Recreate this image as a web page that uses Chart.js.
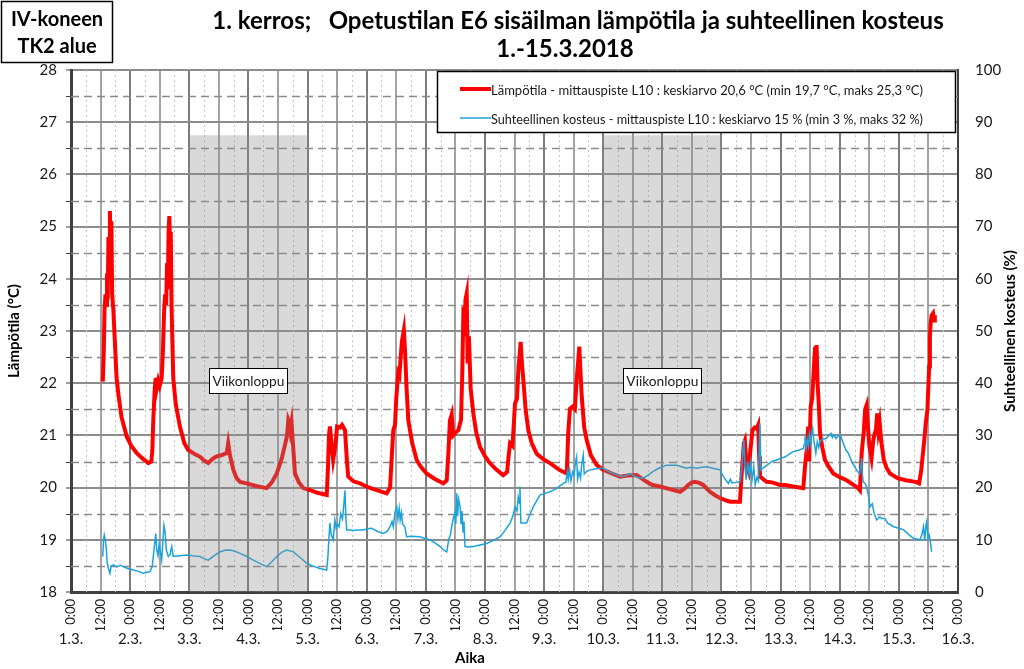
<!DOCTYPE html>
<html lang="fi">
<head>
  <meta charset="UTF-8" />
  <title>Opetustilan E6 sisäilman lämpötila ja suhteellinen kosteus</title>
  <script src="https://cdn.jsdelivr.net/npm/chart.js@4"></script>
  <style>
    html, body { margin: 0; padding: 0; background: #fff; }
    canvas { display: block; }
  </style>
</head>
<body>
  <canvas id="chart" width="1024" height="669"></canvas>

  <script>
    // tunnit 1.3. klo 0:00 alkaen
    const dateLabels = ["1.3.", "2.3.", "3.3.", "4.3.", "5.3.", "6.3.", "7.3.", "8.3.",
      "9.3.", "10.3.", "11.3.", "12.3.", "13.3.", "14.3.", "15.3.", "16.3."];

    const weekends = [[48, 96], [216, 264]];

    const tempHours = [12.9, 13.3, 13.6, 14.0, 14.3, 14.6, 14.9, 15.2, 15.5, 15.8, 16.1, 16.4, 16.7, 17.2, 17.9, 18.5, 19.2, 20.5, 22.6, 24.5,
      26.7, 29, 31.4, 32.6, 33.0, 33.4, 34.0, 34.4, 34.8, 35.4, 36.0, 36.8, 37.3, 37.8, 38.2, 38.6, 39.0, 39.3, 39.6, 39.9,
      40.2, 40.5, 40.8, 41.5, 42.5, 44.2, 46, 47.6, 50, 52.4, 54, 55.7, 57.5, 59.1, 61, 63.2, 63.8, 64.5, 65.9, 67.2,
      68.6, 71.3, 75, 79.4, 81.5, 83.5, 85.5, 87.0, 87.7, 88.2, 88.6, 89.0, 89.5, 90.0, 90.9, 92.5, 94.3, 97, 100, 103.8,
      104.3, 104.7, 105.1, 105.6, 106.4, 107.3, 108.0, 109.2, 110, 111.2, 112, 112.5, 114.6, 117.3, 118.6, 121, 124.1, 128.1, 129.5, 130.2,
      130.8, 131.5, 132, 132.8, 133.3, 133.8, 134.3, 135.1, 135.6, 136.2, 136.9, 138.5, 140.3, 142, 144.3, 147.5, 151.1, 152.5, 153.2, 153.8,
      154.5, 155.1, 155.8, 157.2, 158.3, 158.8, 159.3, 159.7, 160.1, 160.6, 161.0, 161.5, 162.2, 163.3, 164.5, 166, 168, 170, 172.5, 175.4,
      177, 177.6, 178.2, 179.2, 180.2, 181.0, 181.6, 182.0, 182.5, 183.0, 183.6, 184.5, 185.6, 187, 189, 191.5, 194.4, 198.5, 201.2, 201.8,
      202.5, 203.5, 204.5, 205.2, 205.8, 206.3, 206.8, 207.3, 208.3, 209.3, 211, 213.4, 216, 219.5, 222.8, 226, 229.6, 233.6, 236, 239,
      243, 247.2, 249, 250.5, 252, 253.2, 255, 256.6, 259.3, 261.5, 263.4, 265.5, 267.5, 271.5, 272.1, 272.6, 273.1, 273.5, 274.2, 275,
      275.7, 276.6, 277.5, 278.3, 278.9, 279.3, 279.6, 282.3, 284.5, 287.7, 290, 293.1, 297.2, 297.9, 298.6, 299.2, 299.6, 300.2, 300.8, 301.4,
      302.0, 302.4, 302.6, 303.0, 303.5, 304.0, 305, 306, 307.5, 309.4, 312, 314.8, 317, 319.5, 320.2, 320.9, 321.4, 321.8, 322.3, 322.9,
      323.4, 324, 324.9, 325.6, 326.2, 326.7, 327.2, 327.7, 328.2, 328.8, 329.9, 331, 332.4, 335.5, 338.7, 342.8, 344.2, 345.0, 345.5, 346.3,
      346.9, 347.6, 348.3, 348.6, 348.9, 349.3, 349.9, 350.3, 350.6];
    const tempValues = [22.03, 22.6, 23.4, 23.7, 23.5, 24.1, 23.6, 24.8, 24.2, 25.3, 24.4, 25.1, 23.7, 23.4, 22.7, 22.1, 21.8, 21.35, 20.98, 20.8,
      20.66, 20.56, 20.47, 20.5, 20.7, 21.3, 21.9, 22.1, 21.9, 22.05, 21.95, 22.1, 22.6, 23.4, 23.7, 23.5, 24.3, 23.8, 24.9, 25.2,
      24.6, 24.9, 23.5, 22.1, 21.6, 21.17, 20.85, 20.72, 20.65, 20.59, 20.52, 20.47, 20.55, 20.6, 20.62, 20.66, 20.85, 20.62, 20.34, 20.18,
      20.11, 20.08, 20.03, 19.99, 20.1, 20.27, 20.55, 20.85, 21.0, 21.3, 21.25, 21.1, 21.25, 20.9, 20.27, 20.1, 19.99, 19.95, 19.9, 19.86,
      20.4, 21.0, 21.17, 20.9, 20.53, 20.8, 21.17, 21.15, 21.2, 21.1, 20.5, 20.21, 20.12, 20.08, 20.05, 20.0, 19.95, 19.89, 20.0, 20.6,
      21.1, 21.2, 21.7, 22.2, 22.15, 22.5, 22.8, 23.02, 22.6, 21.9, 21.29, 20.85, 20.53, 20.4, 20.27, 20.17, 20.08, 20.14, 20.7, 21.29,
      21.4, 21.0, 21.04, 21.1, 21.3, 22.2, 23.47, 22.9, 23.6, 23.72, 22.38, 22.9, 21.9, 21.42, 21.05, 20.78, 20.6, 20.47, 20.35, 20.24,
      20.3, 20.6, 20.85, 20.8, 21.61, 21.7, 22.3, 22.5, 22.79, 22.4, 22.06, 21.5, 21.1, 20.85, 20.65, 20.55, 20.47, 20.33, 20.27, 21.04,
      21.51, 21.55, 21.5, 22.06, 22.4, 22.7, 22.2, 21.74, 21.15, 20.91, 20.62, 20.43, 20.34, 20.27, 20.21, 20.23, 20.24, 20.11, 20.05, 20.02,
      19.97, 19.92, 19.98, 20.05, 20.1, 20.11, 20.09, 20.05, 19.92, 19.85, 19.8, 19.76, 19.73, 19.73, 20.2, 20.53, 20.85, 20.9, 20.4, 20.3,
      20.7, 21.1, 21.15, 21.13, 21.2, 20.6, 20.21, 20.11, 20.1, 20.05, 20.05, 20.02, 19.99, 20.4, 20.72, 21.17, 20.5, 21.55, 21.7, 22.2,
      22.7, 22.1, 22.73, 22.0, 21.6, 21.04, 20.75, 20.53, 20.4, 20.27, 20.2, 20.14, 20.07, 19.99, 19.95, 20.66, 20.9, 21.1, 21.5, 21.58,
      21.2, 20.8, 20.56, 20.9, 21.04, 21.1, 21.42, 21.1, 21.25, 20.9, 20.53, 20.38, 20.27, 20.18, 20.14, 20.11, 20.08, 20.3, 20.53, 20.9,
      21.23, 21.5, 22.32, 22.9, 23.15, 23.3, 23.34, 23.2, 23.3];

    const rhHours = [12.9, 13.2, 13.5, 13.9, 14.3, 14.7, 15.2, 15.8, 16.3, 17.2, 18.5, 20, 21.2, 23, 25.3, 27, 29.3, 31, 32.1, 33.0,
      33.4, 34.0, 34.4, 34.8, 35.3, 35.8, 36.3, 36.8, 37.2, 37.7, 38.2, 38.7, 39.5, 40.2, 40.9, 41.5, 43, 45, 47, 50,
      52.4, 54, 55.7, 58, 60.5, 62.5, 64.5, 66.5, 68.6, 71.3, 74, 77, 79.4, 81.5, 83.5, 85.5, 87.5, 90.2, 92.5, 95.7,
      98, 101, 103.8, 104.3, 104.7, 105.1, 105.6, 106.4, 107.1, 107.6, 108.2, 108.8, 109.5, 110.2, 110.7, 111.2, 111.6, 111.9, 113, 114.6,
      116.5, 118.6, 120.3, 122, 124.5, 126.7, 128.3, 129.5, 130.3, 130.8, 131.5, 132.2, 132.7, 133.2, 133.6, 134.1, 134.6, 135.5, 136.2, 138,
      141.6, 143.5, 145.7, 148, 149.8, 151.3, 152.5, 153.3, 154, 154.5, 155.1, 155.8, 156.2, 156.5, 156.9, 157.3, 157.9, 158.3, 158.7, 159.1,
      159.5, 159.9, 161.5, 163.3, 166, 168.7, 171.5, 174.2, 176.2, 178.2, 179.3, 180.2, 181.0, 181.5, 182.0, 182.2, 182.6, 184.9, 186.2, 187.6,
      189, 190.4, 192.4, 194.4, 197, 199.8, 200.8, 201.4, 201.8, 202.4, 202.9, 203.6, 204.2, 204.8, 205.2, 205.6, 206.2, 206.8, 207.3, 207.9,
      208.3, 209.3, 210.6, 212, 214.7, 216, 218, 220.1, 222.3, 224.2, 226.9, 229.6, 232.3, 234.5, 236.3, 239, 241.8, 245.8, 247.8, 249.9,
      251.5, 253.9, 256, 258, 260.5, 263.4, 264.8, 266.8, 267.6, 268.3, 270, 271.5, 272.1, 272.6, 273.1, 273.5, 274.0, 274.6, 275.2, 275.8,
      276.4, 277.1, 277.7, 278.4, 279.0, 279.6, 280.0, 281, 282.5, 284.5, 286.4, 288, 289.9, 291.5, 293.1, 295, 297.2, 297.6, 297.9, 298.4,
      298.8, 299.3, 299.7, 300.2, 300.6, 301.0, 301.5, 301.9, 302.3, 302.9, 303.5, 304, 305.2, 306.4, 307.5, 308.4, 309, 309.5, 310.5, 311.5,
      312.5, 313.2, 314.5, 315.6, 316.5, 317.3, 318.2, 319, 320, 320.6, 320.9, 321.2, 321.5, 322.3, 322.9, 323.7, 324.3, 325.2, 326.0, 327,
      328.2, 329.0, 330.3, 331.5, 333.9, 336, 338, 340, 342, 344.6, 345.4, 346.0, 346.5, 347.0, 347.3, 347.8, 348.3, 348.7, 349.3];
    const rhValues = [6.8, 10.0, 10.9, 10.0, 8.5, 5.5, 4.5, 3.6, 5.0, 5.2, 4.8, 5.1, 4.85, 4.5, 4.2, 4.0, 3.6, 3.8, 3.9, 5.0,
      6.8, 9.5, 11.2, 8.0, 7.0, 9.3, 7.5, 6.1, 9.0, 12.8, 11.5, 8.0, 6.8, 7.2, 8.7, 6.8, 6.9, 7.0, 7.1, 6.9,
      6.8, 6.4, 6.1, 6.9, 7.7, 8.0, 8.05, 7.8, 7.4, 6.8, 6.1, 5.4, 4.85, 5.8, 6.8, 7.6, 8.05, 7.7, 6.8, 5.5,
      5.0, 4.5, 4.2, 7.0, 10.5, 13.2, 11.0, 10.0, 13.8, 12.2, 13.0, 12.5, 15.0, 14.0, 16.5, 19.5, 14.0, 11.9, 11.9, 11.8,
      11.9, 11.9, 12.1, 12.2, 11.6, 11.2, 11.6, 12.5, 13.5, 12.5, 15.3, 16.3, 14.0, 16.0, 13.8, 15.2, 13.0, 12.5, 10.6, 10.7,
      10.6, 10.3, 10.0, 9.3, 8.7, 8.0, 7.7, 10.0, 11.0, 12.5, 14.0, 15.1, 13.0, 18.9, 14.5, 17.8, 16.4, 13.0, 15.5, 11.5,
      13.5, 8.7, 8.6, 8.7, 9.0, 9.3, 9.9, 10.6, 11.8, 13.2, 14.5, 16.3, 15.5, 18.2, 17.0, 20.2, 13.2, 13.2, 14.8, 16.3,
      17.5, 18.6, 18.9, 19.2, 19.8, 20.8, 21.0, 23.0, 21.5, 23.4, 21.3, 23.0, 22.4, 25.0, 25.9, 21.6, 23.0, 21.8, 24.5, 26.2,
      22.6, 23.1, 23.4, 23.5, 23.7, 23.7, 23.1, 22.7, 22.3, 22.1, 22.7, 22.0, 21.8, 22.5, 23.1, 23.8, 24.3, 24.3, 24.0, 23.7,
      23.9, 23.7, 23.9, 24.0, 23.7, 23.4, 22.1, 20.8, 21.6, 20.9, 21.0, 21.1, 23.0, 26.5, 29.1, 24.0, 21.5, 25.0, 22.5, 24.8,
      21.5, 24.0, 20.5, 22.0, 21.3, 32.3, 23.4, 23.8, 24.3, 25.0, 25.3, 25.6, 25.9, 26.4, 26.9, 27.1, 27.5, 28.2, 29.8, 27.5,
      29.2, 27.9, 30.2, 28.5, 30.5, 31.4, 29.0, 27.9, 26.6, 28.8, 27.7, 28.9, 29.3, 29.4, 29.9, 30.4, 29.6, 30.1, 29.4, 30.0,
      29.8, 28.8, 27.2, 26.5, 25.4, 24.6, 23.9, 23.2, 22.7, 24.1, 25.6, 22.5, 21.1, 20.8, 20.2, 18.3, 16.3, 16.9, 15.0, 13.8,
      14.4, 14.1, 14.1, 13.2, 12.5, 12.2, 11.9, 11.0, 10.3, 10.0, 11.1, 12.5, 9.9, 12.8, 13.5, 10.3, 10.9, 10.0, 7.7];

    const tempLabel = "Lämpötila - mittauspiste L10 : keskiarvo 20,6 °C (min 19,7 °C, maks 25,3 °C)";
    const rhLabel = "Suhteellinen kosteus - mittauspiste L10 : keskiarvo 15 % (min 3 %, maks 32 %)";

    const FONT = "Lato, 'Liberation Sans', sans-serif";
    const TEXT = "#1a1a1a";

    // piirretään tekstit, laatikot ja apuviivat itse
    const decor = {
      id: "decor",
      beforeDraw(chart) {
        const c = chart.ctx;
        c.save();
        c.fillStyle = "#fff";
        c.fillRect(0, 0, chart.width, chart.height);
        c.restore();
      },
      beforeDatasetsDraw(chart) {
        const c = chart.ctx, a = chart.chartArea;
        const x = chart.scales.x, y = chart.scales.y;
        c.save();
        // 6 h välit pisteviivalla
        c.strokeStyle = "#c4c4c4";
        c.lineWidth = 1;
        c.setLineDash([2, 3]);
        for (let h = 6; h < 360; h += 12) {
          const px = Math.round(x.getPixelForValue(h)) + 0.5;
          c.beginPath(); c.moveTo(px, a.top); c.lineTo(px, a.bottom); c.stroke();
        }
        // puolen asteen katkoviivat
        c.strokeStyle = "#8a8a8a";
        c.lineWidth = 1.5;
        c.setLineDash([8, 5]);
        for (let t = 18.5; t < 28; t += 1) {
          const py = Math.round(y.getPixelForValue(t)) + 0.5;
          c.beginPath(); c.moveTo(a.left, py); c.lineTo(a.right, py); c.stroke();
        }
        c.setLineDash([]);
        c.strokeStyle = "#404040";
        c.lineWidth = 1;
        for (let t = 18.5; t < 28; t += 1) {
          const py = Math.round(y.getPixelForValue(t)) + 0.5;
          c.beginPath(); c.moveTo(a.left - 5, py); c.lineTo(a.left, py); c.stroke();
        }
        c.restore();
      },
      afterDatasetsDraw(chart) {
        const c = chart.ctx;
        const x = chart.scales.x, y = chart.scales.y;
        c.save();
        // viikonloput
        c.fillStyle = "rgba(140,140,140,0.33)";
        weekends.forEach(([h0, h1]) => {
          const x0 = x.getPixelForValue(h0), x1 = x.getPixelForValue(h1);
          const y0 = y.getPixelForValue(26.75), y1 = y.getPixelForValue(18);
          c.fillRect(x0, y0, x1 - x0, y1 - y0);
        });
        c.font = "14px " + FONT;
        c.textAlign = "center";
        c.textBaseline = "middle";
        weekends.forEach(([h0, h1]) => {
          const cx = x.getPixelForValue((h0 + h1) / 2);
          const cy = y.getPixelForValue(22.05);
          c.fillStyle = "#fff";
          c.fillRect(cx - 39, cy - 12.5, 78, 25);
          c.strokeStyle = "#000";
          c.lineWidth = 1;
          c.strokeRect(Math.round(cx - 39) + 0.5, Math.round(cy - 12.5) + 0.5, 78, 25);
          c.fillStyle = TEXT;
          c.fillText("Viikonloppu", cx, cy + 1, 72);
        });

        // selite
        c.fillStyle = "#fff";
        c.fillRect(437, 71, 519, 62);
        c.strokeStyle = "#000";
        c.lineWidth = 1.5;
        c.strokeRect(437.5, 71.5, 518, 61);
        const ds = chart.data.datasets;
        const rows = [[ds[0], 89], [ds[1], 118]];
        c.textAlign = "left";
        rows.forEach(([d, ry]) => {
          c.strokeStyle = d.borderColor;
          c.lineWidth = d.borderWidth;
          c.beginPath(); c.moveTo(460, ry); c.lineTo(491, ry); c.stroke();
          c.fillStyle = TEXT;
          c.font = "14px " + FONT;
          c.fillText(d.label, 491, ry + 1, 432);
        });
        c.restore();
      },
      afterDraw(chart) {
        const c = chart.ctx;
        c.save();
        c.fillStyle = "#000";
        c.textBaseline = "middle";
        c.textAlign = "center";
        c.font = "bold 24px " + FONT;
        c.fillText("1. kerros;   Opetustilan E6 sisäilman lämpötila ja suhteellinen kosteus", 578, 21, 750);
        c.fillText("1.-15.3.2018", 565, 49);

        c.strokeStyle = "#000";
        c.lineWidth = 1.5;
        c.strokeRect(1.5, 1.5, 111, 61);
        c.font = "bold 20px " + FONT;
        c.fillText("IV-koneen", 57, 20, 104);
        c.fillText("TK2 alue", 57, 47, 104);

        c.font = "bold 15px " + FONT;
        c.fillText("Aika", 470, 658);
        const mid = (chart.chartArea.top + chart.chartArea.bottom) / 2;
        [[14, "Lämpötila (°C)"], [1010, "Suhteellinen kosteus (%)"]].forEach(([tx, txt]) => {
          c.save();
          c.translate(tx, mid);
          c.rotate(-Math.PI / 2);
          c.fillText(txt, 0, 0);
          c.restore();
        });
        c.restore();
      }
    };

    const toPoints = (hs, vs) => hs.map((h, i) => ({ x: h, y: vs[i] }));

    new Chart(document.getElementById("chart").getContext("2d"), {
      type: "line",
      data: {
        datasets: [
          {
            label: tempLabel,
            data: toPoints(tempHours, tempValues),
            yAxisID: "y",
            borderColor: "#ff0000",
            borderWidth: 4,
            pointRadius: 0,
            tension: 0,
            order: 1
          },
          {
            label: rhLabel,
            data: toPoints(rhHours, rhValues),
            yAxisID: "y1",
            borderColor: "#1ba3dd",
            borderWidth: 1.5,
            pointRadius: 0,
            tension: 0,
            order: 0
          }
        ]
      },
      options: {
        responsive: false,
        animation: false,
        devicePixelRatio: 1,
        layout: { padding: { top: 70, left: 0, right: 0, bottom: 20 } },
        plugins: { legend: { display: false }, tooltip: { enabled: false } },
        scales: {
          x: {
            type: "linear",
            position: "bottom",
            weight: 0,
            min: 0,
            max: 360,
            afterFit: s => { s.height = 38; },
            ticks: {
              stepSize: 12,
              autoSkip: false,
              minRotation: 90,
              maxRotation: 90,
              padding: 7,
              color: TEXT,
              font: { family: FONT, size: 13 },
              callback: v => (v % 24 === 0 ? "0:00" : "12:00")
            },
            grid: {
              drawTicks: false,
              lineWidth: 2,
              color: ctx => (ctx.tick && ctx.tick.value % 24 === 0 ? "#7c7c7c" : "#a3a3a3")
            },
            border: { color: "#404040", width: 3 }
          },
          x2: {
            type: "linear",
            position: "bottom",
            weight: 1,
            min: 0,
            max: 360,
            afterFit: s => { s.height = 19; },
            ticks: {
              stepSize: 24,
              autoSkip: false,
              maxRotation: 0,
              padding: 0,
              color: TEXT,
              font: { family: FONT, size: 15 },
              callback: v => dateLabels[Math.round(v / 24)]
            },
            grid: { display: false, drawTicks: false },
            border: { display: false }
          },
          y: {
            position: "left",
            min: 18,
            max: 28,
            afterFit: s => { s.width = 71; },
            ticks: {
              stepSize: 1,
              padding: 9,
              color: TEXT,
              font: { family: FONT, size: 15 }
            },
            grid: { color: "#8c8c8c", lineWidth: 2, tickLength: 5, tickColor: "#404040", tickWidth: 1 },
            border: { color: "#404040", width: 3 }
          },
          y1: {
            position: "right",
            min: 0,
            max: 100,
            afterFit: s => { s.width = 66; },
            ticks: {
              stepSize: 10,
              padding: 17,
              color: TEXT,
              font: { family: FONT, size: 15 }
            },
            grid: { display: false, drawTicks: false },
            border: { color: "#404040", width: 2 }
          }
        }
      },
      plugins: [decor]
    });
  </script>
</body>
</html>
